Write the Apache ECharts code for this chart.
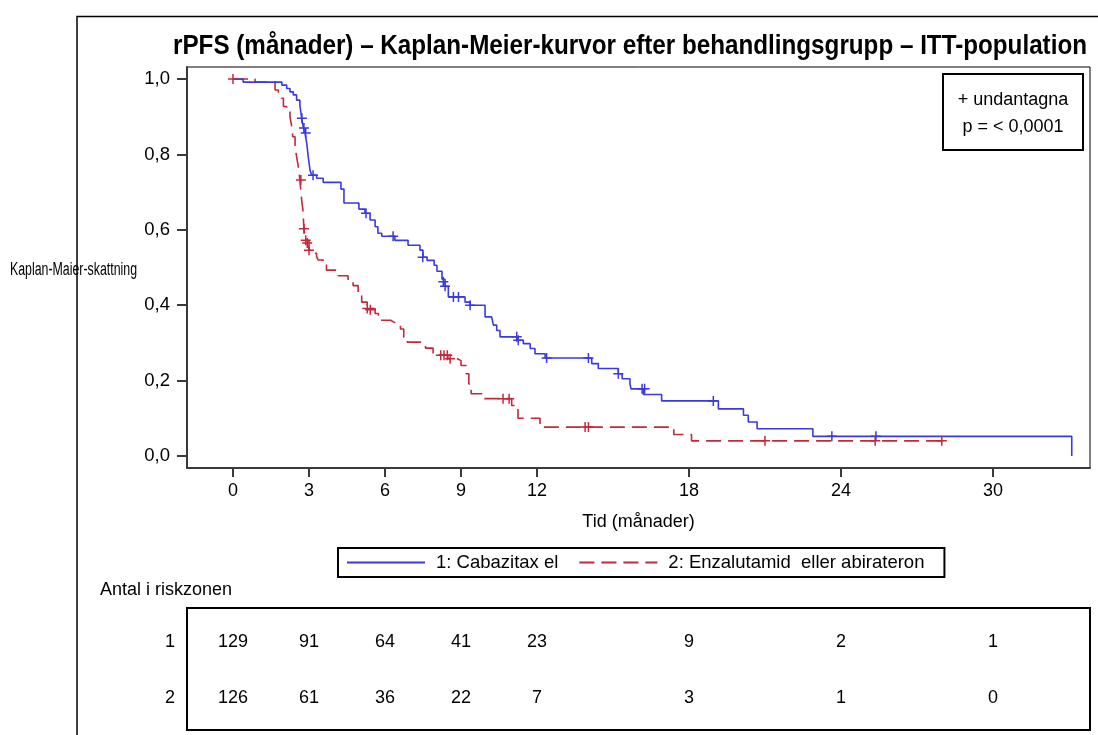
<!DOCTYPE html>
<html><head><meta charset="utf-8">
<script src="https://cdn.jsdelivr.net/npm/echarts@6/dist/echarts.min.js"></script>
<style>html,body{margin:0;padding:0;background:#fff}#c{width:1098px;height:735px}</style>
</head><body><div id="c"></div>
<script>
const FONT = '"Liberation Sans",Arial,sans-serif';
const titleText = 'rPFS (månader) – Kaplan-Meier-kurvor efter behandlingsgrupp – ITT-population';
const yName = 'Kaplan-Maier-skattning';
const xName = 'Tid (månader)';
const xTicks = [0, 3, 6, 9, 12, 18, 24, 30];
const yTicks = [0, 0.2, 0.4, 0.6, 0.8, 1.0];
const groupNames = ['1: Cabazitax el', '2: Enzalutamid  eller abirateron'];
const riskRows = ['1', '2'];
const riskTimes = [0, 3, 6, 9, 12, 18, 24, 30];
const riskCab = [129, 91, 64, 41, 23, 9, 2, 1];
const riskEnz = [126, 61, 36, 22, 7, 3, 1, 0];

// Cabazitaxel KM step points [month, survival]
const cabTime = [0, 0.4, 1.93, 2.12, 2.25, 2.38, 2.51, 2.64, 2.71, 2.78, 2.84, 2.91, 2.97, 3.04, 3.11, 3.30, 3.56, 4.26, 4.38, 4.97, 5.21, 5.41, 5.61, 5.72, 5.87, 6.39, 6.91, 7.38, 7.50, 7.66, 7.94, 8.05, 8.25, 8.37, 8.50, 9.16, 9.36, 9.95, 10.21, 10.28, 10.41, 10.54, 11.25, 11.46, 11.73, 11.92, 12.32, 14.16, 14.42, 15.21, 15.36, 15.67, 15.71, 16.20, 16.92, 19.16, 20.15, 20.34, 20.69, 22.89, 33.11];
const cabSurv = [1.0, 0.992, 0.984, 0.975, 0.966, 0.958, 0.944, 0.931, 0.896, 0.870, 0.857, 0.830, 0.794, 0.758, 0.745, 0.737, 0.726, 0.708, 0.671, 0.655, 0.644, 0.626, 0.608, 0.591, 0.583, 0.572, 0.559, 0.546, 0.527, 0.519, 0.506, 0.490, 0.469, 0.450, 0.422, 0.408, 0.400, 0.369, 0.364, 0.347, 0.333, 0.316, 0.307, 0.298, 0.285, 0.271, 0.260, 0.245, 0.232, 0.218, 0.205, 0.192, 0.178, 0.163, 0.146, 0.125, 0.108, 0.090, 0.072, 0.052, 0.0];
const cabCensTime = [2.72, 2.80, 2.87, 3.16, 5.25, 6.32, 7.49, 8.30, 8.37, 8.70, 8.90, 9.36, 11.20, 11.26, 12.38, 14.03, 15.21, 16.15, 16.25, 18.96, 23.64, 25.38];
const cabCensSurv = [0.896, 0.870, 0.857, 0.745, 0.644, 0.583, 0.527, 0.462, 0.450, 0.422, 0.422, 0.400, 0.316, 0.307, 0.260, 0.260, 0.218, 0.178, 0.178, 0.146, 0.052, 0.052];

// Enzalutamid / abirateron KM step points
const enzTime = [0, 0.87, 1.66, 1.79, 1.86, 1.99, 2.12, 2.25, 2.32, 2.36, 2.45, 2.51, 2.58, 2.64, 2.71, 2.76, 2.80, 2.87, 3.00, 3.11, 3.30, 3.36, 3.56, 3.69, 4.16, 4.54, 4.74, 4.94, 5.08, 5.30, 5.61, 5.74, 6.22, 6.35, 6.61, 6.74, 6.88, 7.40, 7.60, 7.90, 8.48, 8.86, 9.00, 9.20, 9.31, 9.40, 9.82, 11.00, 11.25, 12.12, 17.40, 18.10, 27.98];
const enzSurv = [1.0, 0.992, 0.971, 0.962, 0.949, 0.927, 0.918, 0.900, 0.873, 0.847, 0.820, 0.794, 0.767, 0.732, 0.679, 0.652, 0.603, 0.572, 0.546, 0.538, 0.529, 0.520, 0.507, 0.493, 0.478, 0.469, 0.452, 0.431, 0.408, 0.391, 0.378, 0.360, 0.355, 0.350, 0.337, 0.315, 0.302, 0.298, 0.286, 0.267, 0.258, 0.253, 0.240, 0.218, 0.191, 0.165, 0.152, 0.134, 0.100, 0.0765, 0.057, 0.040, 0.040];
const enzCensTime = [0, 2.68, 2.80, 2.87, 2.93, 3.00, 5.30, 5.42, 8.20, 8.33, 8.46, 8.57, 10.66, 10.90, 13.90, 14.03, 21.00, 25.35, 27.98];
const enzCensSurv = [1.0, 0.732, 0.603, 0.572, 0.565, 0.546, 0.391, 0.388, 0.267, 0.267, 0.267, 0.258, 0.152, 0.152, 0.0765, 0.0765, 0.040, 0.040, 0.040];

const BLUE = '#3a3ae0', RED = '#c4283a';
const zip = (a, b) => a.map((v, i) => [v, b[i]]);
const plusSym = 'path://M0,10L20,10M10,0L10,20';
const comma = v => v.toFixed(1).replace('.', ',');

// measure text so condensed-looking labels can be squeezed to the reference width
const mctx = document.createElement('canvas').getContext('2d');
function widthOf(text, font) { mctx.font = font; return mctx.measureText(text).width; }
const TITLE_FONT = 'bold 27px ' + FONT;
const titleScale = 914 / widthOf(titleText, TITLE_FONT);
const YNAME_FONT = '18px ' + FONT;
const yNameScale = 127 / widthOf(yName, YNAME_FONT);

const X0 = -1.816, X1 = 33.83;
const chart = echarts.init(document.getElementById('c'));
chart.setOption({
  animation: false,
  legend: {
    data: groupNames, left: 338, top: 548,
    padding: [5, 20, 5, 8], itemGap: 20, itemWidth: 78, itemHeight: 14,
    borderColor: '#000', borderWidth: 2,
    itemStyle: { color: 'rgba(0,0,0,0)', borderWidth: 0, opacity: 0 },
    textStyle: { fontFamily: FONT, fontSize: 18.5, color: '#000', padding: [0, 0, 0, 6] }
  },
  grid: [
    { left: 187, top: 67, width: 903, height: 401, show: true, borderColor: '#000', borderWidth: 1, outerBoundsMode: 'none', containLabel: false },
    { left: 187, top: 608, width: 903, height: 122, show: true, borderColor: '#000', borderWidth: 2, outerBoundsMode: 'none', containLabel: false }
  ],
  xAxis: [
    {
      type: 'value', gridIndex: 0, min: X0, max: X1,
      name: xName, nameLocation: 'middle', nameGap: 45,
      nameTextStyle: { fontFamily: FONT, fontSize: 18, color: '#000' },
      axisLine: { show: true, onZero: false, lineStyle: { color: '#3a3a3a', width: 2 } },
      axisTick: { show: true, length: 9, lineStyle: { color: '#3a3a3a', width: 2 }, customValues: xTicks },
      axisLabel: { fontFamily: FONT, fontSize: 18, color: '#000', margin: 14, customValues: xTicks, formatter: v => String(v) },
      splitLine: { show: false }
    },
    { type: 'value', gridIndex: 1, min: X0, max: X1, show: false }
  ],
  yAxis: [
    {
      type: 'value', gridIndex: 0, min: -0.032, max: 1.032,
      axisLine: { show: true, onZero: false, lineStyle: { color: '#3a3a3a', width: 2 } },
      axisTick: { show: true, length: 10, lineStyle: { color: '#3a3a3a', width: 2 }, customValues: yTicks },
      axisLabel: { fontFamily: FONT, fontSize: 18.5, color: '#000', margin: 17, customValues: yTicks, formatter: comma },
      splitLine: { show: false }
    },
    {
      type: 'value', gridIndex: 1, min: 0.393, max: 2.571, inverse: true,
      axisLine: { show: false }, axisTick: { show: false }, splitLine: { show: false },
      axisLabel: { fontFamily: FONT, fontSize: 18, color: '#000', margin: 12, customValues: [1, 2], formatter: v => riskRows[Math.round(v) - 1] }
    }
  ],
  graphic: [
    { type: 'polyline', silent: true, shape: { points: [[77, 735], [77, 16.5], [1098, 16.5]] }, style: { stroke: '#000', lineWidth: 1.5, fill: null } },
    { type: 'text', silent: true, x: 630, y: 47, scaleX: titleScale, style: { x: 0, y: 0, text: titleText, textAlign: 'center', textVerticalAlign: 'middle', font: TITLE_FONT, fill: '#000' } },
    { type: 'text', silent: true, x: 10, y: 270, scaleX: yNameScale, style: { x: 0, y: 0, text: yName, textAlign: 'left', textVerticalAlign: 'middle', font: YNAME_FONT, fill: '#000' } },
    { type: 'rect', silent: true, shape: { x: 943, y: 74, width: 140, height: 76 }, style: { stroke: '#000', lineWidth: 2, fill: '#fff' } },
    { type: 'text', silent: true, style: { x: 1013, y: 100, text: '+ undantagna', textAlign: 'center', textVerticalAlign: 'middle', font: '18px ' + FONT, fill: '#000' } },
    { type: 'text', silent: true, style: { x: 1013, y: 127, text: 'p = < 0,0001', textAlign: 'center', textVerticalAlign: 'middle', font: '18px ' + FONT, fill: '#000' } },
    { type: 'text', silent: true, style: { x: 100, y: 590, text: 'Antal i riskzonen', textAlign: 'left', textVerticalAlign: 'middle', font: '18px ' + FONT, fill: '#000' } }
  ],
  series: [
    {
      name: groupNames[0], type: 'line', step: 'end', xAxisIndex: 0, yAxisIndex: 0,
      data: zip(cabTime, cabSurv), showSymbol: false, symbol: 'none', silent: true,
      lineStyle: { color: BLUE, width: 1.6 }, itemStyle: { color: BLUE }, z: 3
    },
    {
      name: groupNames[1], type: 'line', step: 'end', xAxisIndex: 0, yAxisIndex: 0,
      data: zip(enzTime, enzSurv), showSymbol: false, symbol: 'none', silent: true,
      lineStyle: { color: RED, width: 1.6, type: [15, 7] }, itemStyle: { color: RED }, z: 2
    },
    {
      name: 'cens1', type: 'scatter', xAxisIndex: 0, yAxisIndex: 0, silent: true,
      data: zip(cabCensTime, cabCensSurv), symbol: plusSym, symbolSize: 10,
      itemStyle: { color: 'rgba(0,0,0,0)', borderColor: BLUE, borderWidth: 1.5, opacity: 1 }, z: 4
    },
    {
      name: 'cens2', type: 'scatter', xAxisIndex: 0, yAxisIndex: 0, silent: true,
      data: zip(enzCensTime, enzCensSurv), symbol: plusSym, symbolSize: 10,
      itemStyle: { color: 'rgba(0,0,0,0)', borderColor: RED, borderWidth: 1.5, opacity: 1 }, z: 4
    },
    {
      name: 'risk', type: 'scatter', xAxisIndex: 1, yAxisIndex: 1, silent: true,
      symbolSize: 0, itemStyle: { opacity: 1 },
      data: riskTimes.map((t, i) => [t, 1, riskCab[i]]).concat(riskTimes.map((t, i) => [t, 2, riskEnz[i]])),
      label: { show: true, position: 'inside', formatter: p => String(p.value[2]), fontFamily: FONT, fontSize: 18, color: '#000', opacity: 1 }
    }
  ]
});
</script></body></html>
